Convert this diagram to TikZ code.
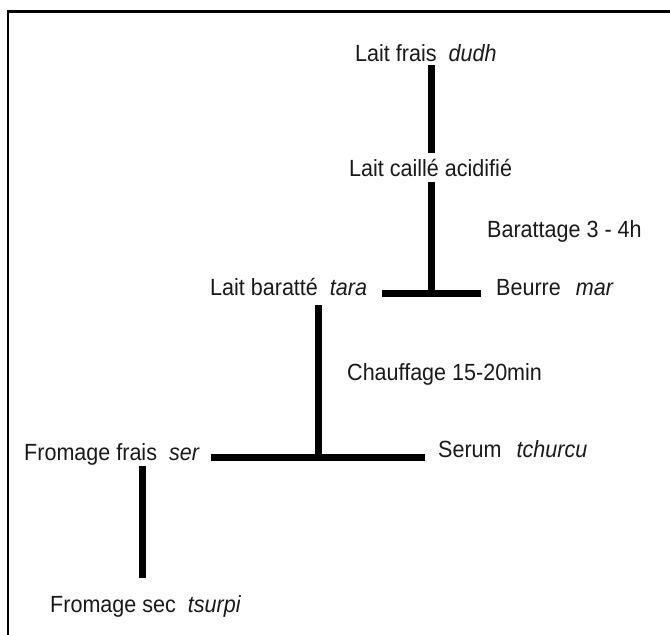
\documentclass[tikz,border=0pt]{standalone}
\usepackage{fontspec}
\setmainfont[FakeStretch=0.92]{Liberation Sans}
\begin{document}
\begin{tikzpicture}[x=1bp,y=-1bp,
  lbl/.style={font=\fontsize{23.5}{28}\selectfont, inner sep=0pt, anchor=base west, text=black!90},
  bar/.style={line width=7bp, line cap=butt},
  frame/.style={line width=2.8bp}]
\useasboundingbox (0,0) rectangle (670,635);
% frame (top and left edges visible)
\coordinate (ftl) at (8,11.5);
\coordinate (fbl) at (8,640);
\coordinate (ftr) at (675,11.5);
\draw[frame] (fbl) -- (ftl) -- (ftr);
% labels
\node[lbl] (lf) at (355,62) {Lait frais\hspace{12bp}\textit{dudh}};
\node[lbl] (lc) at (349,177) {Lait caillé acidifié};
\node[lbl] (bt) at (487,237) {Barattage 3 - 4h};
\node[lbl] (lb) at (210,295) {Lait baratté\hspace{12bp}\textit{tara}};
\node[lbl] (be) at (496,295) {Beurre\hspace{15bp}\textit{mar}};
\node[lbl] (ch) at (347,380) {Chauffage 15-20min};
\node[lbl] (ff) at (24,460) {Fromage frais\hspace{12bp}\textit{ser}};
\node[lbl] (se) at (438,457) {Serum\hspace{15bp}\textit{tchurcu}};
\node[lbl] (fs) at (50,612) {Fromage sec\hspace{12bp}\textit{tsurpi}};
% junctions
\coordinate (j1) at (431,293.5);
\coordinate (j2) at (318,457);
\coordinate (j3) at (142,470);
% connectors
\draw[bar] ([yshift=-3bp]lf.base -| j1) -- ([yshift=24bp]lc.base -| j1);
\draw[bar] ([yshift=-5bp]lc.base -| j1) -- ([yshift=-3.5bp]j1);
\draw[bar] ([xshift=15bp]lb.east |- j1) -- ([xshift=-15bp]be.west |- j1);
\draw[bar] ([yshift=-10bp]lb.base -| j2) -- ([yshift=-3.5bp]j2);
\draw[bar] ([xshift=11bp]ff.east |- j2) -- ([xshift=-13bp]se.west |- j2);
\draw[bar] ([yshift=-6bp]ff.base -| j3) -- ([yshift=34bp]fs.base -| j3);
\end{tikzpicture}
\end{document}
